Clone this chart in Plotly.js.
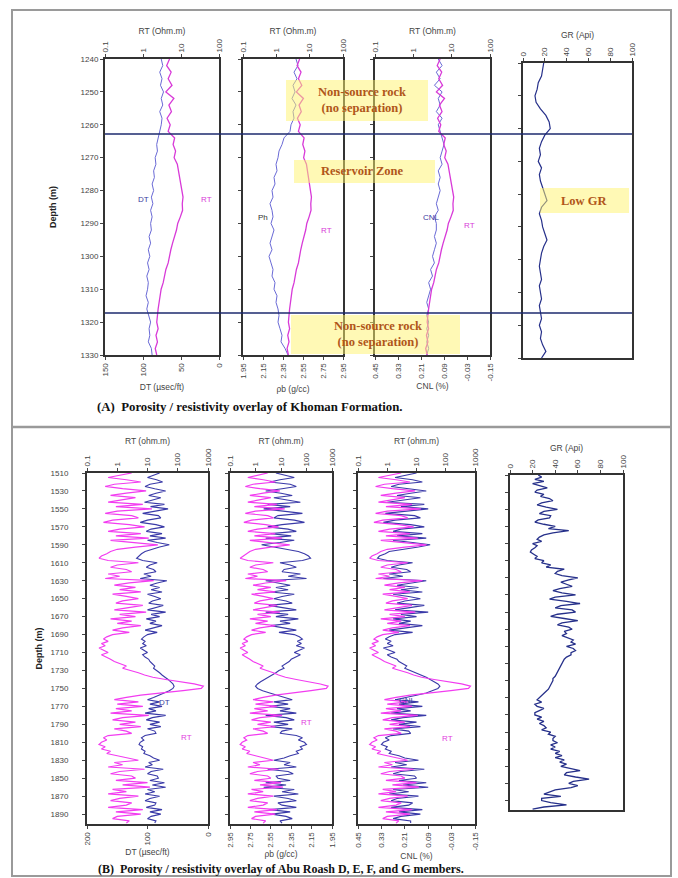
<!DOCTYPE html>
<html><head><meta charset="utf-8">
<script src="https://cdn.plot.ly/plotly-3.0.1.min.js"></script>
<style>html,body{margin:0;padding:0;background:#fff;}#chart{width:678px;height:878px;}</style>
</head><body><div id="chart"></div>
<script>
// ---------------- DATA: Panel A (Khoman Formation) ----------------
const depthA = [1240,1242,1244,1246,1248,1250,1252,1254,1256,1258,1260,1262,1264,1266,1268,1270,1272,1274,1276,1278,1280,1282,1284,1286,1288,1290,1292,1294,1296,1298,1300,1302,1304,1306,1308,1310,1312,1314,1316,1318,1320,1322,1324,1326,1328,1330];
const rtA = [5.0,4.2,5.5,4.6,5.8,4.0,6.5,4.8,5.6,4.3,5.2,4.6,6.8,6.2,7.2,6.6,8.0,8.6,9.2,9.8,10.5,11.3,10.8,11.0,9.6,8.2,7.6,6.6,6.0,5.4,5.0,4.6,4.0,3.7,3.4,3.0,2.8,2.7,2.5,2.4,2.3,2.5,2.2,2.4,2.1,2.3];
const dtA = [76,74,78,75,77,73,76,74,78,75,76,78,80,82,81,84,83,86,85,88,86,89,87,90,88,90,89,92,90,93,91,94,92,95,93,94,96,93,95,92,90,92,91,93,89,88];
const rhoA = [2.48,2.50,2.46,2.49,2.45,2.47,2.44,2.48,2.45,2.46,2.43,2.42,2.36,2.34,2.31,2.30,2.28,2.29,2.26,2.27,2.24,2.25,2.22,2.24,2.25,2.23,2.26,2.24,2.22,2.24,2.21,2.23,2.25,2.24,2.27,2.26,2.29,2.28,2.30,2.31,2.30,2.32,2.34,2.33,2.37,2.40];
const cnlA = [0.12,0.10,0.13,0.11,0.14,0.10,0.12,0.11,0.13,0.10,0.12,0.11,0.10,0.09,0.10,0.11,0.10,0.12,0.11,0.12,0.11,0.12,0.13,0.12,0.14,0.13,0.13,0.14,0.13,0.14,0.15,0.14,0.16,0.15,0.17,0.16,0.17,0.18,0.17,0.18,0.17,0.18,0.17,0.18,0.17,0.18];
const grA = [19,18,17,14,13,11,12,16,21,24,25,20,17,15,16,14,17,15,16,18,20,22,17,15,17,18,20,22,19,17,16,15,16,17,15,16,17,15,16,17,15,17,16,18,21,17];
const zoneTopA = 1262.8;
const zoneBaseA = 1317.2;

// ---------------- DATA: Panel B (Abu Roash D, E, F, G) ----------------
const depthB = [1510,1512.5,1515,1517.5,1520,1522.5,1525,1527.5,1530,1532.5,1535,1537.5,1540,1542.5,1545,1547.5,1550,1552.5,1555,1557.5,1560,1562.5,1565,1567.5,1570,1572.5,1575,1577.5,1580,1582.5,1585,1587.5,1590,1592.5,1595,1597.5,1600,1602.5,1605,1607.5,1610,1612.5,1615,1617.5,1620,1622.5,1625,1627.5,1630,1632.5,1635,1637.5,1640,1642.5,1645,1647.5,1650,1652.5,1655,1657.5,1660,1662.5,1665,1667.5,1670,1672.5,1675,1677.5,1680,1682.5,1685,1687.5,1690,1692.5,1695,1697.5,1700,1702.5,1705,1707.5,1710,1712.5,1715,1717.5,1720,1722.5,1725,1727.5,1730,1732.5,1735,1737.5,1740,1742.5,1745,1747.5,1750,1752.5,1755,1757.5,1760,1762.5,1765,1767.5,1770,1772.5,1775,1777.5,1780,1782.5,1785,1787.5,1790,1792.5,1795,1797.5,1800,1802.5,1805,1807.5,1810,1812.5,1815,1817.5,1820,1822.5,1825,1827.5,1830,1832.5,1835,1837.5,1840,1842.5,1845,1847.5,1850,1852.5,1855,1857.5,1860,1862.5,1865,1867.5,1870,1872.5,1875,1877.5,1880,1882.5,1885,1887.5,1890,1892.5,1895,1897.5,1900];
const rtB = [3,1.2,0.5,2, 6,0.8,0.4,1.5, 9,2,0.6,4, 1.5,0.5,7,0.9, 14,1.0,0.4,3, 5,0.7,0.35,2.5, 8,1.2,0.5,6, 0.9,11,0.6,3, 22,4,1.0,0.6, 0.45,0.3,0.25,0.5,
  5,1.0,0.6,2, 3,0.5,1.2,0.4, 16,2.5,0.8,4, 1.2,6,0.7,2, 5,1.5,0.9,7, 2,0.8,9,1.2, 4,0.6,3,1.0, 6,1.5,0.7,2.5, 0.7,0.45,0.35,0.5, 0.3,0.4,0.25,0.35,
  0.5,0.3,0.45,0.6, 0.8,1.2,2,1.5, 3,5,8,15, 40,120,350,700, 600,150,25,6, 2,0.8,5,1.0, 7,0.9,3,0.6, 11,1.5,0.7,4, 1.2,6,0.8,2, 3,0.5,0.35,0.45,
  0.3,0.25,0.4,0.3, 0.6,0.45,1.0,2, 5,0.8,1.5,0.5, 8,1.2,0.6,3, 4,0.9,10,1.5, 12,0.7,2,0.5, 5,1.2,0.6,3, 2,0.5,7,0.9, 6,1.0,0.7,2.5, 2];
const dtB = [80,92,100,85, 75,96,104,88, 70,86,98,78, 90,105,72,95, 66,88,108,82, 78,100,112,86, 72,94,102,76, 96,70,100,84, 64,80,94,104, 110,115,118,108,
  84,96,102,90, 86,106,94,112, 68,84,96,80, 94,76,100,88, 78,92,98,74, 88,100,70,94, 80,102,86,96, 76,90,104,84, 100,106,110,104, 108,102,112,106,
  100,108,104,98, 96,92,88,90, 84,80,76,70, 66,62,58,56, 58,64,72,82, 90,100,80,96, 76,98,86,104, 70,92,102,80, 96,78,100,88, 86,104,110,106,
  112,114,108,110, 104,106,96,90, 80,98,92,104, 74,94,100,84, 82,96,72,92, 70,100,88,104, 80,96,104,86, 88,102,76,96, 78,94,100,86, 88];
const rhoB = [2.50,2.40,2.32,2.46, 2.56,2.36,2.30,2.44, 2.60,2.45,2.34,2.52, 2.40,2.26,2.58,2.36, 2.62,2.42,2.24,2.48, 2.52,2.32,2.22,2.44, 2.58,2.38,2.30,2.55, 2.35,2.60,2.32,2.46, 2.64,2.52,2.38,2.28, 2.22,2.18,2.16,2.24,
  2.46,2.36,2.30,2.42, 2.44,2.26,2.38,2.20, 2.60,2.46,2.36,2.50, 2.38,2.55,2.32,2.44, 2.52,2.40,2.34,2.57, 2.42,2.30,2.60,2.38, 2.50,2.28,2.46,2.36, 2.55,2.42,2.30,2.47, 2.32,2.27,2.24,2.29, 2.25,2.30,2.22,2.27,
  2.32,2.26,2.30,2.35, 2.37,2.40,2.44,2.42, 2.47,2.50,2.54,2.58, 2.62,2.65,2.68,2.70, 2.68,2.63,2.56,2.48, 2.42,2.34,2.52,2.38, 2.56,2.36,2.46,2.30, 2.60,2.40,2.32,2.52, 2.38,2.55,2.34,2.44, 2.46,2.30,2.24,2.28,
  2.22,2.20,2.26,2.24, 2.30,2.28,2.36,2.42, 2.52,2.36,2.42,2.30, 2.58,2.38,2.33,2.50, 2.48,2.36,2.60,2.40, 2.62,2.32,2.44,2.28, 2.52,2.38,2.30,2.48, 2.44,2.30,2.56,2.36, 2.54,2.40,2.34,2.46, 2.44];
const cnlB = [0.15,0.20,0.26,0.17, 0.12,0.24,0.28,0.19, 0.10,0.18,0.25,0.13, 0.21,0.30,0.11,0.23, 0.09,0.20,0.31,0.16, 0.13,0.26,0.32,0.18, 0.11,0.23,0.27,0.12, 0.25,0.10,0.27,0.17, 0.08,0.14,0.22,0.29, 0.31,0.34,0.35,0.30,
  0.17,0.24,0.28,0.20, 0.18,0.29,0.22,0.32, 0.10,0.17,0.25,0.14, 0.23,0.12,0.27,0.19, 0.13,0.21,0.25,0.11, 0.19,0.26,0.09,0.23, 0.15,0.27,0.18,0.24, 0.12,0.21,0.29,0.17, 0.26,0.29,0.31,0.28, 0.30,0.27,0.32,0.29,
  0.26,0.30,0.28,0.25, 0.24,0.22,0.20,0.21, 0.18,0.15,0.13,0.10, 0.08,0.06,0.04,0.03, 0.04,0.07,0.10,0.15, 0.20,0.26,0.14,0.24, 0.12,0.25,0.18,0.28, 0.10,0.22,0.28,0.15, 0.24,0.13,0.27,0.19, 0.18,0.28,0.31,0.29,
  0.32,0.33,0.30,0.31, 0.28,0.29,0.24,0.21, 0.14,0.26,0.20,0.28, 0.11,0.23,0.27,0.16, 0.15,0.24,0.10,0.22, 0.09,0.27,0.19,0.29, 0.14,0.25,0.28,0.17, 0.19,0.28,0.12,0.24, 0.13,0.23,0.27,0.18, 0.18];
const grB = [25,28,22,30, 20,26,33,24, 22,30,27,35, 38,28,24,32, 42,30,26,36, 35,25,22,30, 40,34,52,38, 30,26,24,28, 20,24,22,19, 18,21,24,22,
  30,28,36,32, 48,42,40,46, 60,52,45,50, 55,44,38,46, 58,40,35,50, 62,45,40,55, 58,42,36,48, 60,46,42,52, 55,48,50,46, 52,56,54,58,
  50,56,58,54, 54,50,48,47, 46,45,44,43, 42,41,40,38, 38,37,36,35, 34,32,30,28, 26,24,28,22, 24,30,26,22, 22,28,24,30, 26,30,32,28,
  36,34,40,38, 38,42,36,40, 36,44,40,46, 40,48,44,50, 45,55,62,50, 48,58,70,56, 52,60,54,40, 35,30,45,28, 28,36,50,30, 20];

// ---------------- TICKS ----------------
const depthTicksA = [1240,1250,1260,1270,1280,1290,1300,1310,1320,1330];
const depthTicksB = [1510,1530,1550,1570,1590,1610,1630,1650,1670,1690,1710,1730,1750,1770,1790,1810,1830,1850,1870,1890];
const rtTicksA = [0.1,1,10,100];
const rtTicksB = [0.1,1,10,100,1000];
const dtTicksA = [150,100,50,0];
const dtTicksB = [200,100,0];
const rhoTicksA = [1.95,2.15,2.35,2.55,2.75,2.95];
const rhoTicksB = [2.95,2.75,2.55,2.35,2.15,1.95];
const cnlTicks = [0.45,0.33,0.21,0.09,-0.03,-0.15];
const grTicks = [0,20,40,60,80,100];

// ---------------- LAYOUT HELPERS ----------------
const W = 678, H = 878;
const px = x => x / W;
const py = y => 1 - y / H;
const SANS = 'Liberation Sans, Arial, sans-serif';
const SERIF = 'Liberation Serif, Times New Roman, serif';
const tickFont = {family: SANS, size: 8, color: '#444'};
const titleFont = {family: SANS, size: 8.5, color: '#444'};

function ax(extra) {
  return Object.assign({
    showline: true, linecolor: '#333', linewidth: 2,
    ticks: 'outside', ticklen: 3, tickcolor: '#444', tickwidth: 1,
    showgrid: false, zeroline: false, tickfont: tickFont, tickangle: -90,
    fixedrange: true, automargin: false
  }, extra);
}
const rtText = v => v.map(t => String(t));
const fmt2 = v => v.map(t => t.toFixed(2));

const RT_COL = '#d83ad8';
const DT_COL = '#6a6ad6';
const RT_COL_B = '#f23cf0';
const BLUE_B = '#3a3aa8';
const GR_COL = '#26308a';

const layout = {
  width: W, height: H, autosize: false,
  margin: {l: 0, r: 0, t: 0, b: 0},
  paper_bgcolor: '#fff', plot_bgcolor: 'rgba(0,0,0,0)',
  showlegend: false,
  // ===== Panel A =====
  xaxis: ax({domain: [px(105), px(219)], anchor: 'y', side: 'bottom', range: [150, 0], tickvals: dtTicksA, ticktext: rtText(dtTicksA),
    title: {text: 'DT (µsec/ft)', font: titleFont, standoff: 8}}),
  xaxis2: ax({overlaying: 'x', anchor: 'y', side: 'top', type: 'log', range: [-1, 2], tickvals: rtTicksA, ticktext: rtText(rtTicksA),
    title: {text: 'RT (Ohm.m)', font: titleFont, standoff: 3}}),
  yaxis: ax({domain: [py(355), py(59)], anchor: 'x', range: [1330, 1240], tickvals: depthTicksA, tickangle: 0, mirror: true,
    title: {text: '<b>Depth (m)</b>', font: {family: SANS, size: 9, color: '#222'}, standoff: 22}}),

  xaxis3: ax({domain: [px(243), px(343)], anchor: 'y2', side: 'bottom', range: [1.95, 2.95], tickvals: rhoTicksA, ticktext: fmt2(rhoTicksA),
    title: {text: 'ρb (g/cc)', font: titleFont, standoff: 8}}),
  xaxis4: ax({overlaying: 'x3', anchor: 'y2', side: 'top', type: 'log', range: [-1, 2], tickvals: rtTicksA, ticktext: rtText(rtTicksA),
    title: {text: 'RT (Ohm.m)', font: titleFont, standoff: 3}}),
  yaxis2: ax({domain: [py(355), py(59)], anchor: 'x3', range: [1330, 1240], tickvals: depthTicksA, showticklabels: false, mirror: true}),

  xaxis5: ax({domain: [px(375), px(490)], anchor: 'y3', side: 'bottom', range: [0.45, -0.15], tickvals: cnlTicks, ticktext: fmt2(cnlTicks),
    title: {text: 'CNL (%)', font: titleFont, standoff: 3}}),
  xaxis6: ax({overlaying: 'x5', anchor: 'y3', side: 'top', type: 'log', range: [-1, 2], tickvals: rtTicksA, ticktext: rtText(rtTicksA),
    title: {text: 'RT (Ohm.m)', font: titleFont, standoff: 3}}),
  yaxis3: ax({domain: [py(355), py(59)], anchor: 'x5', range: [1330, 1240], tickvals: depthTicksA, showticklabels: false, mirror: true}),

  xaxis7: ax({domain: [px(523), px(632)], anchor: 'y4', side: 'top', mirror: true, range: [0, 100], tickvals: grTicks, ticktext: rtText(grTicks),
    title: {text: 'GR (Api)', font: titleFont, standoff: 3}}),
  yaxis4: ax({domain: [py(358), py(63)], anchor: 'x7', range: [1330, 1240], tickvals: depthTicksA, showticklabels: false, mirror: true}),

  // ===== Panel B =====
  xaxis8: ax({domain: [px(87), px(208)], anchor: 'y5', side: 'bottom', range: [200, 0], tickvals: dtTicksB, ticktext: rtText(dtTicksB),
    title: {text: 'DT (µsec/ft)', font: titleFont, standoff: 4}}),
  xaxis9: ax({overlaying: 'x8', anchor: 'y5', side: 'top', type: 'log', range: [-1, 3], tickvals: rtTicksB, ticktext: rtText(rtTicksB),
    title: {text: 'RT (ohm.m)', font: titleFont, standoff: 2}}),
  yaxis5: ax({domain: [py(824), py(473)], anchor: 'x8', range: [1901, 1510], tickvals: depthTicksB, tickangle: 0, mirror: true, ticklabelstandoff: 12,
    title: {text: '<b>Depth (m)</b>', font: {family: SANS, size: 9, color: '#222'}, standoff: 6}}),

  xaxis10: ax({domain: [px(230), px(332)], anchor: 'y6', side: 'bottom', range: [2.95, 1.95], tickvals: rhoTicksB, ticktext: fmt2(rhoTicksB),
    title: {text: 'ρb (g/cc)', font: titleFont, standoff: 4}}),
  xaxis11: ax({overlaying: 'x10', anchor: 'y6', side: 'top', type: 'log', range: [-1, 3], tickvals: rtTicksB, ticktext: rtText(rtTicksB),
    title: {text: 'RT (ohm.m)', font: titleFont, standoff: 2}}),
  yaxis6: ax({domain: [py(824), py(473)], anchor: 'x10', range: [1901, 1510], tickvals: depthTicksB, showticklabels: false, mirror: true}),

  xaxis12: ax({domain: [px(358), px(475)], anchor: 'y7', side: 'bottom', range: [0.45, -0.15], tickvals: cnlTicks, ticktext: fmt2(cnlTicks),
    title: {text: 'CNL (%)', font: titleFont, standoff: 4}}),
  xaxis13: ax({overlaying: 'x12', anchor: 'y7', side: 'top', type: 'log', range: [-1, 3], tickvals: rtTicksB, ticktext: rtText(rtTicksB),
    title: {text: 'RT (ohm.m)', font: titleFont, standoff: 2}}),
  yaxis7: ax({domain: [py(824), py(473)], anchor: 'x12', range: [1901, 1510], tickvals: depthTicksB, showticklabels: false, mirror: true}),

  xaxis14: ax({domain: [px(510), px(623)], anchor: 'y8', side: 'top', mirror: true, range: [0, 100], tickvals: grTicks, ticktext: rtText(grTicks),
    title: {text: 'GR (Api)', font: titleFont, standoff: 2}}),
  yaxis8: ax({domain: [py(810), py(475)], anchor: 'x14', range: [1901, 1510], tickvals: depthTicksB, showticklabels: false, mirror: true}),

  shapes: [
    {type: 'rect', xref: 'paper', yref: 'paper', x0: px(12), x1: px(671), y0: py(876), y1: py(10), line: {color: '#9a9a9a', width: 2}, layer: 'below'},
    {type: 'line', xref: 'paper', yref: 'paper', x0: px(12), x1: px(671), y0: py(427), y1: py(427), line: {color: '#9a9a9a', width: 2.5}, layer: 'below'},
    {type: 'line', xref: 'paper', yref: 'y', x0: px(105), x1: px(632), y0: zoneTopA, y1: zoneTopA, line: {color: '#1c2a6e', width: 1.5}},
    {type: 'line', xref: 'paper', yref: 'y', x0: px(105), x1: px(632), y0: zoneBaseA, y1: zoneBaseA, line: {color: '#1c2a6e', width: 1.5}},
    {type: 'rect', xref: 'paper', yref: 'paper', x0: px(286), x1: px(428), y0: py(121), y1: py(80), fillcolor: '#fff36b', opacity: 0.5, line: {width: 0}, layer: 'above'},
    {type: 'rect', xref: 'paper', yref: 'paper', x0: px(294), x1: px(435), y0: py(183), y1: py(160), fillcolor: '#fff36b', opacity: 0.5, line: {width: 0}, layer: 'above'},
    {type: 'rect', xref: 'paper', yref: 'paper', x0: px(291), x1: px(460), y0: py(354), y1: py(315), fillcolor: '#fff36b', opacity: 0.5, line: {width: 0}, layer: 'above'},
    {type: 'rect', xref: 'paper', yref: 'paper', x0: px(540), x1: px(629), y0: py(213), y1: py(188), fillcolor: '#fff36b', opacity: 0.5, line: {width: 0}, layer: 'above'}
  ],
  annotations: []
};

function ann(x, y, text, font, extra) {
  layout.annotations.push(Object.assign({xref: 'paper', yref: 'paper', x: px(x), y: py(y), text: text, showarrow: false, font: font, xanchor: 'center', yanchor: 'middle'}, extra || {}));
}
const calloutFont = {family: SERIF, size: 12.5, color: '#b0561a'};
ann(362, 100, '<b>Non-source rock<br>(no separation)</b>', calloutFont);
ann(362, 171, '<b>Reservoir Zone</b>', calloutFont);
ann(378, 334, '<b>Non-source rock<br>(no separation)</b>', calloutFont);
ann(584, 201, '<b>Low GR</b>', calloutFont);

const lblFont = c => ({family: SANS, size: 8, color: c});
ann(143, 199, 'DT', lblFont('#3a3aa0'));
ann(206, 199, 'RT', lblFont('#d83ad8'));
ann(263, 217, 'Ph', lblFont('#333'));
ann(326, 230, 'RT', lblFont('#d83ad8'));
ann(431, 217, 'CNL', lblFont('#3a3aa0'));
ann(469, 225, 'RT', lblFont('#d83ad8'));
ann(164, 702, 'DT', lblFont('#3a3aa0'));
ann(186, 737, 'RT', lblFont('#e23ce0'));
ann(306, 722, 'RT', lblFont('#e23ce0'));
ann(407, 700, 'CNL', lblFont('#3a3aa0'));
ann(447, 738, 'RT', lblFont('#e23ce0'));

ann(95, 407, '<b>(A)  Porosity / resistivity overlay of Khoman Formation.</b>', {family: SERIF, size: 12.8, color: '#111'}, {xanchor: 'left'});
ann(96, 869, '<b>(B)  Porosity / resistivity overlay of Abu Roash D, E, F, and G members.</b>', {family: SERIF, size: 12, color: '#111'}, {xanchor: 'left'});

// ---------------- TRACES ----------------
function tr(x, y, xa, ya, color, width) {
  return {type: 'scatter', mode: 'lines', x: x, y: y, xaxis: xa, yaxis: ya, line: {color: color, width: width}, hoverinfo: 'skip'};
}
const data = [
  tr(dtA, depthA, 'x', 'y', DT_COL, 1),
  tr(rtA, depthA, 'x2', 'y', RT_COL, 1.3),
  tr(rhoA, depthA, 'x3', 'y2', DT_COL, 1),
  tr(rtA, depthA, 'x4', 'y2', RT_COL, 1.3),
  tr(cnlA, depthA, 'x5', 'y3', DT_COL, 1),
  tr(rtA, depthA, 'x6', 'y3', RT_COL, 1.3),
  tr(grA, depthA, 'x7', 'y4', GR_COL, 1.2),

  tr(rtB, depthB, 'x9', 'y5', RT_COL_B, 1.2),
  tr(dtB, depthB, 'x8', 'y5', BLUE_B, 1.1),
  tr(rtB, depthB, 'x11', 'y6', RT_COL_B, 1.2),
  tr(rhoB, depthB, 'x10', 'y6', BLUE_B, 1.1),
  tr(rtB, depthB, 'x13', 'y7', RT_COL_B, 1.2),
  tr(cnlB, depthB, 'x12', 'y7', BLUE_B, 1.1),
  tr(grB, depthB, 'x14', 'y8', GR_COL, 1.3)
];

Plotly.newPlot('chart', data, layout, {displayModeBar: false, staticPlot: true});
</script>
</body></html>
